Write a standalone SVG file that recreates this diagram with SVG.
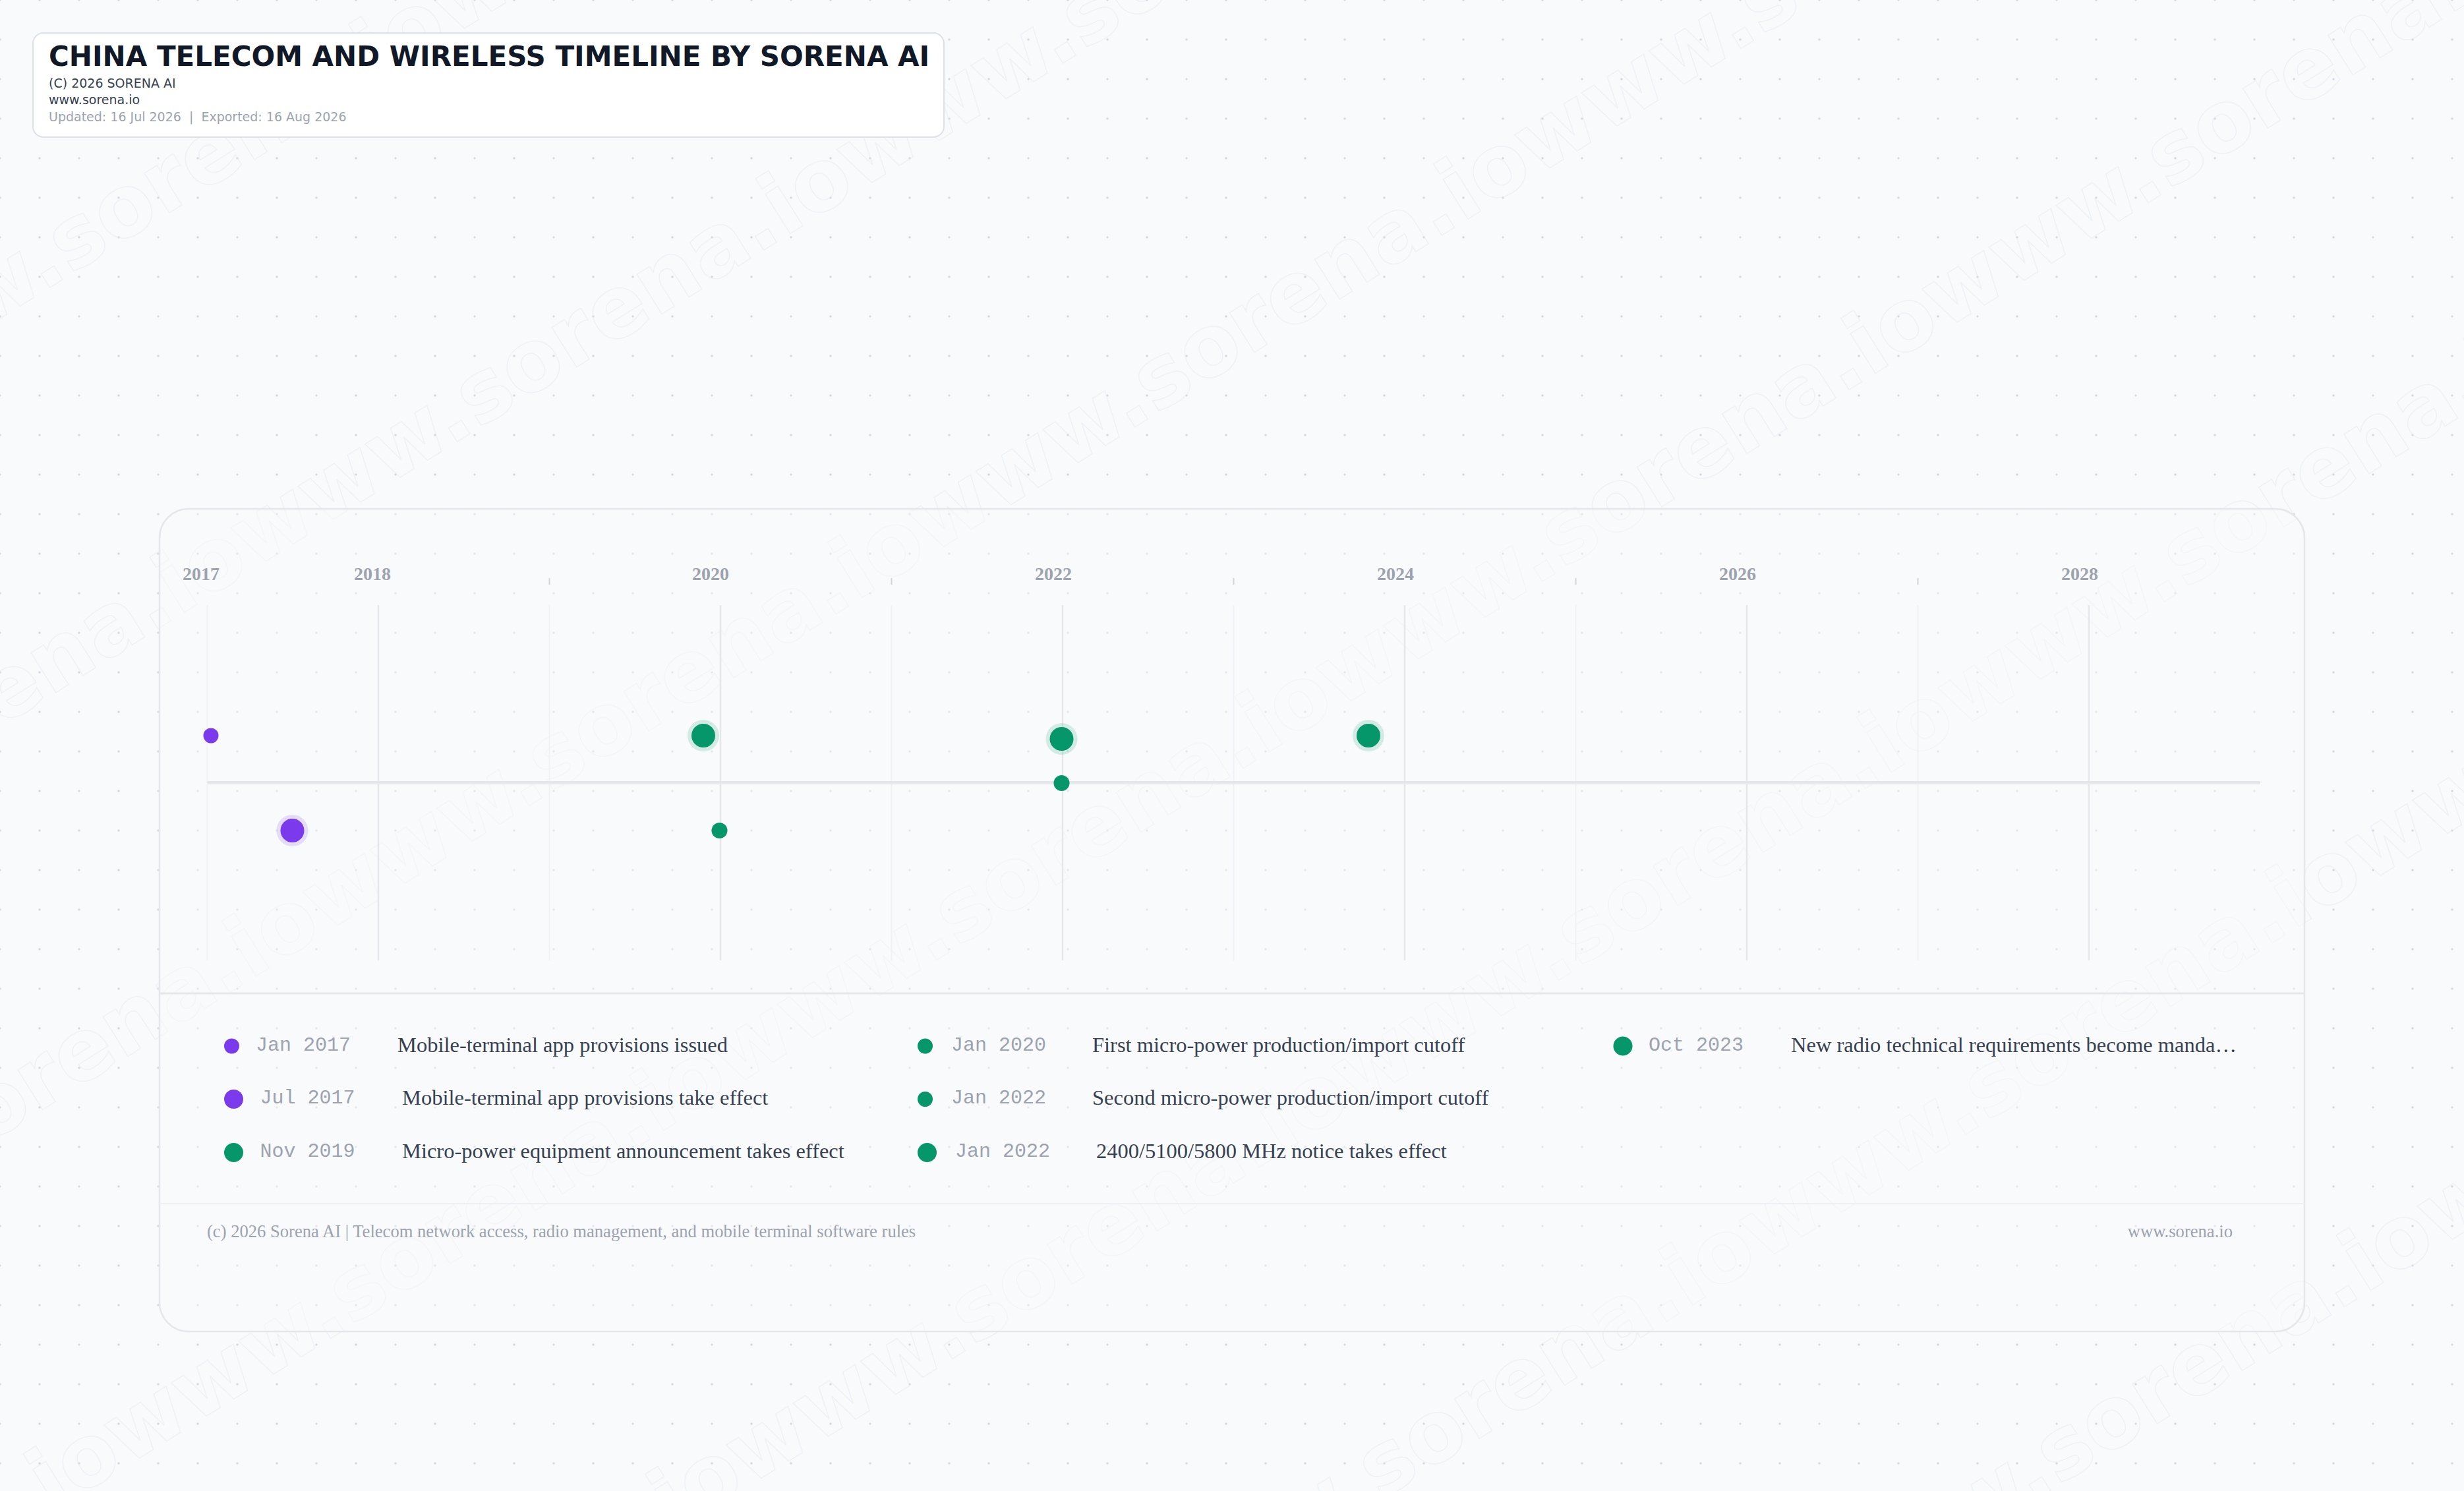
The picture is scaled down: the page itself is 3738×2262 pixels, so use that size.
<svg xmlns="http://www.w3.org/2000/svg" width="3738" height="2262" viewBox="0 0 3738 2262">
<style>
.title{font-family:"DejaVu Sans",sans-serif;font-weight:bold;font-size:42px;fill:#111827}
.meta{font-family:"DejaVu Sans",sans-serif;font-size:19px;fill:#374151}
.meta2{font-family:"DejaVu Sans",sans-serif;font-size:19px;fill:#9ca3af}
.year{font-family:"Liberation Serif",serif;font-weight:bold;font-size:28px;fill:#9ca3af;text-anchor:middle}
.major{stroke:#e5e7eb;stroke-width:2.5}
.minor{stroke:#f0f2f5;stroke-width:2}
.tick{stroke:#d1d5db;stroke-width:2}
.date{font-family:"Liberation Mono",monospace;font-size:30px;fill:#9ca3af}
.desc{font-family:"Liberation Serif",serif;font-size:32.5px;fill:#374151}
.foot{font-family:"Liberation Serif",serif;font-size:26.6px;fill:#9ca3af}
.purple{fill:#7c3aed}
.green{fill:#059669}
.halo-p{fill:#7c3aed;fill-opacity:0.15}
.halo-g{fill:#059669;fill-opacity:0.15}
.wm{font-family:"DejaVu Sans",sans-serif;font-weight:bold;font-size:130px;fill:none;stroke:#e6e9ee;stroke-width:1.3;stroke-opacity:0.55}
</style>
<defs>
<pattern id="dots" x="-30" y="-30" width="60" height="60" patternUnits="userSpaceOnUse">
<circle cx="30" cy="30" r="1.8" fill="#d5d9e0"/>
</pattern>
<clipPath id="page"><rect x="0" y="0" width="3738" height="2262"/></clipPath>
</defs>
<rect x="0" y="0" width="3738" height="2262" fill="#f8fafc"/>
<rect x="0" y="0" width="3738" height="2262" fill="url(#dots)"/>

<g id="watermark" clip-path="url(#page)">
<g transform="rotate(-32)">
<text class="wm" x="-2700" y="410">www.sorena.iowww.sorena.iowww.sorena.iowww.sorena.iowww.sorena.iowww.sorena.iowww.sorena.io</text>
<text class="wm" x="-2300" y="936">www.sorena.iowww.sorena.iowww.sorena.iowww.sorena.iowww.sorena.iowww.sorena.iowww.sorena.io</text>
<text class="wm" x="-2500" y="1462">www.sorena.iowww.sorena.iowww.sorena.iowww.sorena.iowww.sorena.iowww.sorena.iowww.sorena.io</text>
<text class="wm" x="-2100" y="1988">www.sorena.iowww.sorena.iowww.sorena.iowww.sorena.iowww.sorena.iowww.sorena.iowww.sorena.io</text>
<text class="wm" x="-2400" y="2514">www.sorena.iowww.sorena.iowww.sorena.iowww.sorena.iowww.sorena.iowww.sorena.iowww.sorena.io</text>
<text class="wm" x="-2000" y="3040">www.sorena.iowww.sorena.iowww.sorena.iowww.sorena.iowww.sorena.iowww.sorena.iowww.sorena.io</text>
<text class="wm" x="-2200" y="3566">www.sorena.iowww.sorena.iowww.sorena.iowww.sorena.iowww.sorena.iowww.sorena.iowww.sorena.io</text>
</g>
</g>

<g id="header">
<rect x="50" y="50" width="1382" height="158" rx="16" fill="#ffffff" stroke="#dde1e7" stroke-width="2"/>
<text class="title" x="74" y="100">CHINA TELECOM AND WIRELESS TIMELINE BY SORENA AI</text>
<text class="meta" x="74" y="133">(C) 2026 SORENA AI</text>
<text class="meta" x="74" y="158">www.sorena.io</text>
<text class="meta2" x="74" y="184" xml:space="preserve">Updated: 16 Jul 2026  |  Exported: 16 Aug 2026</text>
</g>

<g id="card">
<rect x="242" y="772" width="3254" height="1248" rx="44" fill="#f9fafb" fill-opacity="0.45" stroke="#e5e7eb" stroke-width="2.5"/>
<line x1="242" y1="1507" x2="3496" y2="1507" stroke="#e5e7eb" stroke-width="3"/>
<line x1="242" y1="1826" x2="3496" y2="1826" stroke="#eef0f3" stroke-width="2"/>
</g>

<g id="grid">
<line class="minor" x1="314.5" y1="918" x2="314.5" y2="1457"/>
<line class="major" x1="574" y1="918" x2="574" y2="1457"/>
<line class="minor" x1="833.5" y1="918" x2="833.5" y2="1457"/>
<line class="major" x1="1093" y1="918" x2="1093" y2="1457"/>
<line class="minor" x1="1352.5" y1="918" x2="1352.5" y2="1457"/>
<line class="major" x1="1612" y1="918" x2="1612" y2="1457"/>
<line class="minor" x1="1871.5" y1="918" x2="1871.5" y2="1457"/>
<line class="major" x1="2131" y1="918" x2="2131" y2="1457"/>
<line class="minor" x1="2390.5" y1="918" x2="2390.5" y2="1457"/>
<line class="major" x1="2650" y1="918" x2="2650" y2="1457"/>
<line class="minor" x1="2909.5" y1="918" x2="2909.5" y2="1457"/>
<line class="major" x1="3169" y1="918" x2="3169" y2="1457"/>
<line class="tick" x1="833.5" y1="877" x2="833.5" y2="887"/>
<line class="tick" x1="1352.5" y1="877" x2="1352.5" y2="887"/>
<line class="tick" x1="1871.5" y1="877" x2="1871.5" y2="887"/>
<line class="tick" x1="2390.5" y1="877" x2="2390.5" y2="887"/>
<line class="tick" x1="2909.5" y1="877" x2="2909.5" y2="887"/>
<text class="year" x="305" y="880">2017</text>
<text class="year" x="565" y="880">2018</text>
<text class="year" x="1078" y="880">2020</text>
<text class="year" x="1598" y="880">2022</text>
<text class="year" x="2117" y="880">2024</text>
<text class="year" x="2636" y="880">2026</text>
<text class="year" x="3155" y="880">2028</text>
</g>

<g id="connectors">
<line id="axis" x1="314.5" y1="1187.5" x2="3429" y2="1187.5" stroke="#e5e7eb" stroke-width="5"/>
</g>

<g id="event-jan-2017"><circle class="purple" cx="320" cy="1116" r="11.5"/></g>
<g id="event-jul-2017"><circle class="halo-p" cx="443.5" cy="1260" r="24"/><circle class="purple" cx="443.5" cy="1260" r="18"/></g>
<g id="event-nov-2019"><circle class="halo-g" cx="1067" cy="1116" r="24"/><circle class="green" cx="1067" cy="1116" r="18"/></g>
<g id="event-jan-2020"><circle class="green" cx="1091.5" cy="1260" r="12"/></g>
<g id="event-jan-2022-mhz"><circle class="halo-g" cx="1610.5" cy="1121" r="24"/><circle class="green" cx="1610.5" cy="1121" r="18"/></g>
<g id="event-jan-2022-second"><circle class="green" cx="1610.5" cy="1188" r="12"/></g>
<g id="event-oct-2023"><circle class="halo-g" cx="2076" cy="1116" r="24"/><circle class="green" cx="2076" cy="1116" r="18"/></g>

<g id="legend">
<g id="legend-1"><circle class="purple" cx="351.5" cy="1587" r="11.5"/><text class="date" x="388" y="1593.5">Jan 2017</text><text class="desc" x="603" y="1595.5">Mobile-terminal app provisions issued</text></g>
<g id="legend-2"><circle class="purple" cx="354.5" cy="1667.5" r="14.5"/><text class="date" x="394.5" y="1674">Jul 2017</text><text class="desc" x="610" y="1676">Mobile-terminal app provisions take effect</text></g>
<g id="legend-3"><circle class="green" cx="354.5" cy="1748.5" r="14.5"/><text class="date" x="394.5" y="1755">Nov 2019</text><text class="desc" x="610" y="1757">Micro-power equipment announcement takes effect</text></g>
<g id="legend-4"><circle class="green" cx="1403.5" cy="1587" r="11.5"/><text class="date" x="1443" y="1593.5">Jan 2020</text><text class="desc" x="1657" y="1595.5">First micro-power production/import cutoff</text></g>
<g id="legend-5"><circle class="green" cx="1403.5" cy="1667.5" r="11.5"/><text class="date" x="1443" y="1674">Jan 2022</text><text class="desc" x="1657" y="1676">Second micro-power production/import cutoff</text></g>
<g id="legend-6"><circle class="green" cx="1406.5" cy="1748.5" r="14.5"/><text class="date" x="1449" y="1755">Jan 2022</text><text class="desc" x="1663" y="1757">2400/5100/5800 MHz notice takes effect</text></g>
<g id="legend-7"><circle class="green" cx="2462" cy="1587" r="14.5"/><text class="date" x="2501" y="1593.5">Oct 2023</text><text class="desc" x="2717" y="1595.5">New radio technical requirements become manda…</text></g>
</g>

<g id="footer">
<text class="foot" x="314" y="1877">(c) 2026 Sorena AI | Telecom network access, radio management, and mobile terminal software rules</text>
<text class="foot" x="3387" y="1877" text-anchor="end">www.sorena.io</text>
</g>
</svg>
